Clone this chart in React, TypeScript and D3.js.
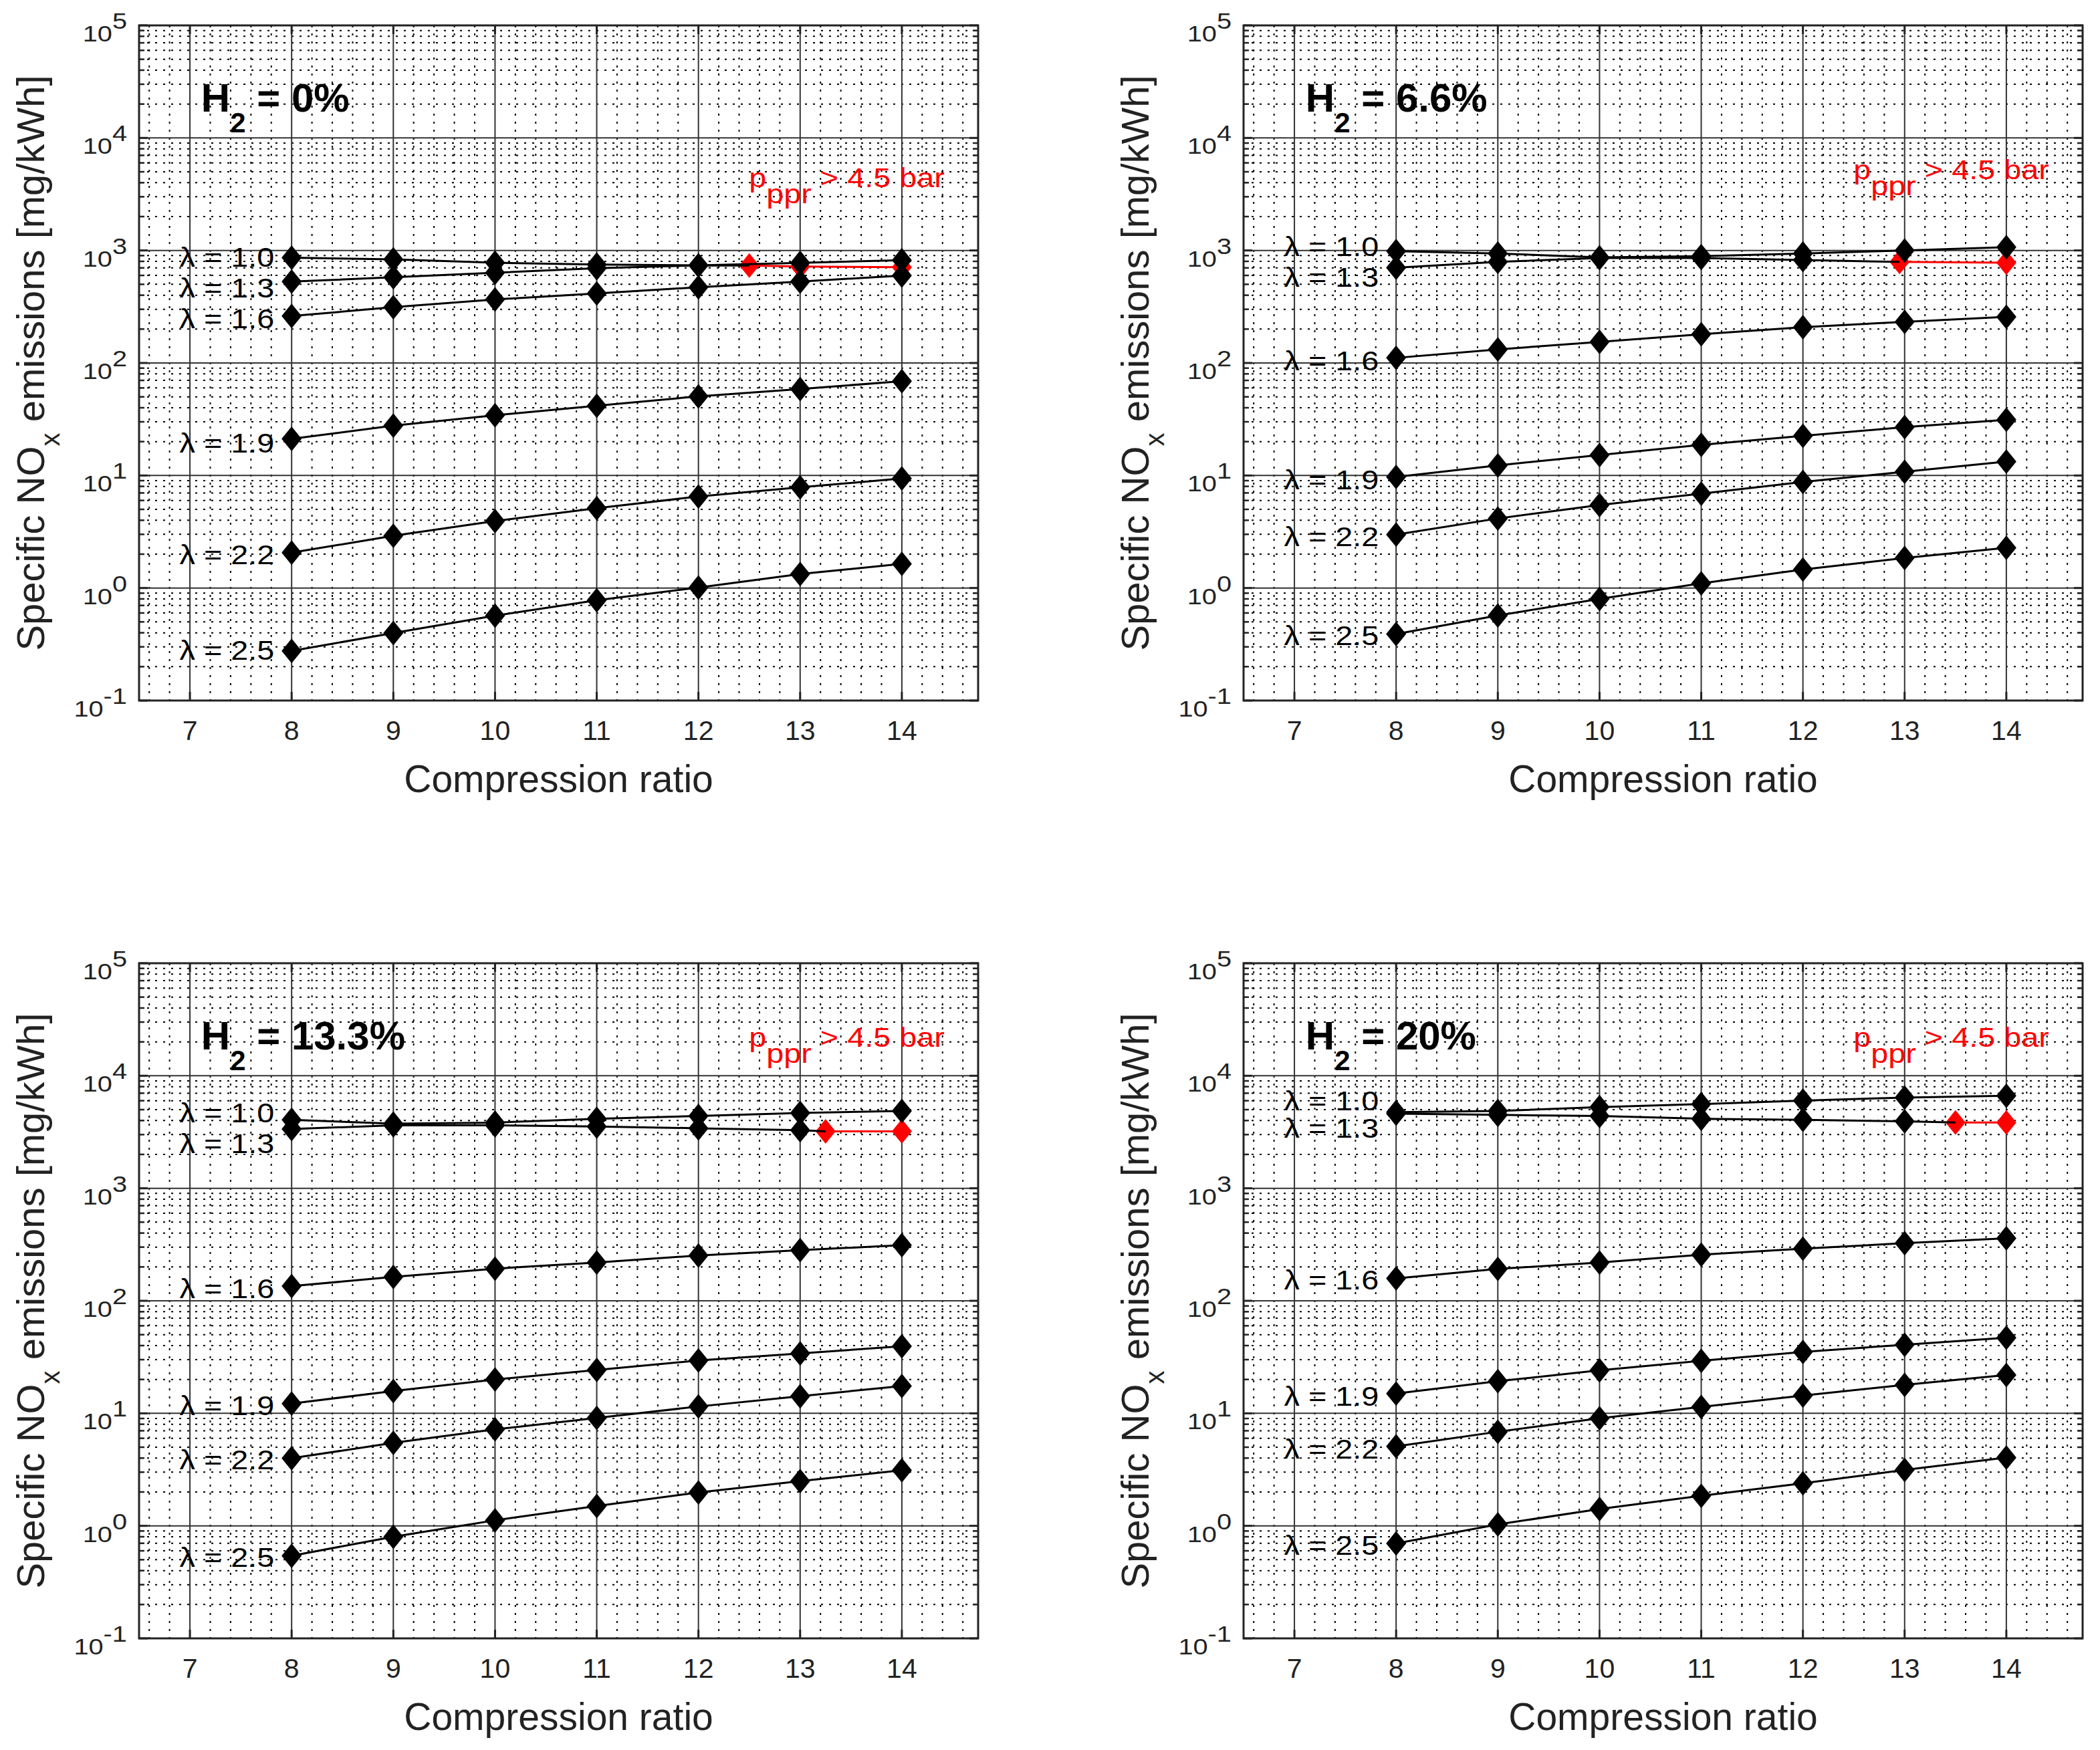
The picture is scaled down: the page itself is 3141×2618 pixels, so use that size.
import React, { useEffect } from 'react';
import * as d3 from 'd3';

// x values shared by all curves
const compressionRatios = [8, 9, 10, 11, 12, 13, 14];
const lambdaValues = ['1.0', '1.3', '1.6', '1.9', '2.2', '2.5'];
const h2Shares = ['0%', '6.6%', '13.3%', '20%'];

// Specific NOx [mg/kWh], one row per lambda (1.0 ... 2.5), columns follow compressionRatios.
// The lambda = 1.3 row only holds the points below the pressure limit.
const noxH2_0 = [
  [861, 833, 778, 750, 736, 775, 820],
  [528, 578, 634, 695, 736],
  [261, 313, 367, 415, 471, 528, 598],
  [21.2, 27.7, 34.3, 41.7, 50.5, 58.6, 68.9],
  [2.06, 2.91, 3.94, 5.12, 6.5, 7.86, 9.4],
  [0.276, 0.398, 0.568, 0.778, 1.01, 1.33, 1.64],
];
const noxH2_66 = [
  [985, 939, 868, 890, 939, 1000, 1070],
  [702, 791, 855, 855, 822],
  [111, 132, 154, 180, 208, 232, 257],
  [9.7, 12.3, 15.2, 18.7, 22.5, 26.9, 31.3],
  [2.98, 4.15, 5.46, 6.9, 8.75, 10.8, 13.3],
  [0.39, 0.57, 0.8, 1.1, 1.46, 1.85, 2.28],
];
const noxH2_133 = [
  [4055, 3750, 3834, 4150, 4385, 4670, 4860],
  [3360, 3630, 3630, 3545, 3415, 3280],
  [135, 163, 193, 219, 253, 282, 312],
  [12.2, 15.8, 20, 24.3, 29.5, 34, 39.5],
  [3.99, 5.46, 7.2, 9.1, 11.5, 14.2, 17.5],
  [0.542, 0.8, 1.12, 1.5, 1.98, 2.5, 3.12],
];
const noxH2_20 = [
  [4745, 4860, 5260, 5600, 6010, 6400, 6650],
  [4600, 4490, 4385, 4150, 4055, 3935],
  [158, 192, 219, 257, 291, 325, 359],
  [15.0, 19.3, 24.1, 29.3, 35.1, 40.7, 46.9],
  [5.09, 6.86, 9.03, 11.4, 14.4, 17.9, 21.9],
  [0.697, 1.03, 1.41, 1.85, 2.39, 3.14, 4.04],
];

// lambda = 1.3 points with peak pressure rise above 4.5 bar (red)
const limitCrH2_0 = [12.5, 13, 14];
const limitNoxH2_0 = [733, 720, 710];
const limitCrH2_66 = [12.95, 14];
const limitNoxH2_66 = [791, 777];
const limitCrH2_133 = [13.25, 14];
const limitNoxH2_133 = [3205, 3205];
const limitCrH2_20 = [13.5, 14];
const limitNoxH2_20 = [3840, 3840];

// where the lambda labels sit (NOx value of their vertical centre)
const labelNoxH2_0 = [871, 462, 245, 19.5, 1.97, 0.278];
const labelNoxH2_66 = [1081, 577, 104, 9.1, 2.84, 0.378];
const labelNoxH2_133 = [4677, 2495, 128, 11.7, 3.84, 0.521];
const labelNoxH2_20 = [6012, 3428, 152, 14.1, 4.82, 0.665];
const noteNox = [3650, 4300, 18000, 18000];

const W = 1255;
const H = 1010;
const FONT = '"Liberation Sans", Arial, Helvetica, sans-serif';
const STRETCH = 1.17; // the TeX-style labels are drawn a bit wide in the original

const panels = [
  { left: 208, top: 38, nox: noxH2_0, limCr: limitCrH2_0, limNox: limitNoxH2_0, labels: labelNoxH2_0 },
  { left: 1860, top: 38, nox: noxH2_66, limCr: limitCrH2_66, limNox: limitNoxH2_66, labels: labelNoxH2_66 },
  { left: 208, top: 1441, nox: noxH2_133, limCr: limitCrH2_133, limNox: limitNoxH2_133, labels: labelNoxH2_133 },
  { left: 1860, top: 1441, nox: noxH2_20, limCr: limitCrH2_20, limNox: limitNoxH2_20, labels: labelNoxH2_20 },
];

const diamond = (cx: number, cy: number) =>
  `M${cx},${cy - 18.5}L${cx + 15},${cy}L${cx},${cy + 18.5}L${cx - 15},${cy}Z`;

function Panel({ idx }: { idx: number }) {
  const p = panels[idx];
  const x = d3.scaleLinear().domain([6.5, 14.75]).range([0, W]);
  const y = d3.scaleLog().domain([0.1, 1e5]).range([H, 0]);

  const minorX = d3.range(33, 74).filter((i) => i % 5 !== 0).map((i) => i / 5);
  const majorX = d3.range(7, 15);
  const exps = d3.range(-1, 6);
  const minorY = d3.range(-1, 5).flatMap((e) => d3.range(2, 10).map((k) => k * Math.pow(10, e)));

  const line = d3
    .line<[number, number]>()
    .x((d) => x(d[0]))
    .y((d) => y(d[1]));

  const series = p.nox.map((row) => row.map((v, i) => [compressionRatios[i], v] as [number, number]));
  const red = p.limCr.map((c, i) => [c, p.limNox[i]] as [number, number]);
  // the black lambda = 1.3 line runs on to the first red point
  const blackPaths = series.map((s, i) => (i === 1 ? [...s, red[0]] : s));

  return (
    <g transform={`translate(${p.left},${p.top})`}>
      <rect x={0} y={0} width={W} height={H} fill="#fff" />
      {/* minor grid */}
      {minorX.map((v) => (
        <line key={'mx' + v} x1={x(v)} x2={x(v)} y1={0} y2={H} stroke="#000" strokeWidth={2} strokeDasharray="3 9" />
      ))}
      {minorY.map((v) => (
        <line key={'my' + v} x1={0} x2={W} y1={y(v)} y2={y(v)} stroke="#000" strokeWidth={2} strokeDasharray="3 9" />
      ))}
      {/* major grid */}
      {majorX.map((v) => (
        <line key={'gx' + v} x1={x(v)} x2={x(v)} y1={0} y2={H} stroke="#333" strokeWidth={2} />
      ))}
      {exps.slice(1, -1).map((e) => (
        <line key={'gy' + e} x1={0} x2={W} y1={y(Math.pow(10, e))} y2={y(Math.pow(10, e))} stroke="#333" strokeWidth={2} />
      ))}

      {/* red part */}
      <path d={line(red) || ''} fill="none" stroke="#ff0000" strokeWidth={3} />
      {red.map((d, i) => (
        <path key={'r' + i} d={diamond(x(d[0]), y(d[1]))} fill="#ff0000" />
      ))}

      {/* black curves */}
      {blackPaths.map((s, i) => (
        <path key={'l' + i} d={line(s) || ''} fill="none" stroke="#000" strokeWidth={3} />
      ))}
      {series.map((s, i) =>
        s.map((d, j) => <path key={'m' + i + '-' + j} d={diamond(x(d[0]), y(d[1]))} fill="#000" />)
      )}

      {/* box and ticks */}
      <rect x={0} y={0} width={W} height={H} fill="none" stroke="#222" strokeWidth={3} />
      {majorX.map((v) => (
        <g key={'tx' + v}>
          <line x1={x(v)} x2={x(v)} y1={H} y2={H - 13} stroke="#222" strokeWidth={3} />
          <line x1={x(v)} x2={x(v)} y1={0} y2={13} stroke="#222" strokeWidth={3} />
        </g>
      ))}
      {exps.map((e) => (
        <g key={'ty' + e}>
          <line x1={0} x2={13} y1={y(Math.pow(10, e))} y2={y(Math.pow(10, e))} stroke="#222" strokeWidth={3} />
          <line x1={W} x2={W - 13} y1={y(Math.pow(10, e))} y2={y(Math.pow(10, e))} stroke="#222" strokeWidth={3} />
        </g>
      ))}
      {minorY.map((v) => (
        <g key={'tm' + v}>
          <line x1={0} x2={8} y1={y(v)} y2={y(v)} stroke="#222" strokeWidth={2.5} />
          <line x1={W} x2={W - 8} y1={y(v)} y2={y(v)} stroke="#222" strokeWidth={2.5} />
        </g>
      ))}

      {/* tick labels */}
      {majorX.map((v) => (
        <text key={'lx' + v} x={x(v)} y={H + 59} textAnchor="middle" fontSize={41} fontFamily={FONT} fill="#222">
          {v}
        </text>
      ))}
      {exps.map((e) => (
        <g key={'ly' + e} transform={`translate(-18,${y(Math.pow(10, e))}) scale(${STRETCH},1)`}>
          <text x={0} y={24} textAnchor="end" fontSize={34} fontFamily={FONT} fill="#222">
            10<tspan dy={-19}>{e}</tspan>
          </text>
        </g>
      ))}

      {/* axis titles */}
      <text x={W / 2} y={H + 137} textAnchor="middle" fontSize={57} fontFamily={FONT} fill="#222">
        Compression ratio
      </text>
      <text
        transform={`translate(-142,${H / 2}) rotate(-90)`}
        textAnchor="middle"
        fontSize={58}
        fontFamily={FONT}
        fill="#222"
      >
        Specific NO<tspan fontSize={40} dy={23}>x</tspan>
        <tspan dy={-23}> emissions [mg/kWh]</tspan>
      </text>

      {/* panel title */}
      <text x={x(7.11)} y={y(17100)} fontSize={60} fontWeight="bold" fontFamily={FONT} fill="#000">
        H<tspan fontSize={42} dy={31}>2</tspan>
        <tspan dy={-31}> = {h2Shares[idx]}</tspan>
      </text>

      {/* lambda labels */}
      {lambdaValues.map((l, i) => (
        <g key={'lam' + l} transform={`translate(${x(7.83)},${y(p.labels[i]) + 14}) scale(${STRETCH},1)`}>
          <text x={0} y={0} textAnchor="end" fontSize={40} fontFamily={FONT} fill="#000">
            {'\u03bb = ' + l}
          </text>
        </g>
      ))}

      {/* pressure limit note */}
      <g transform={`translate(${x(14.42)},${y(noteNox[idx])}) scale(${STRETCH},1)`}>
        <text x={0} y={0} textAnchor="end" fontSize={40} fontFamily={FONT} fill="#ff0000">
          p<tspan dy={24}>ppr</tspan>
          <tspan dy={-24}> &gt; 4.5 bar</tspan>
        </text>
      </g>
    </g>
  );
}

export default function App() {
  useEffect(() => {
    document.body.style.margin = '0';
  }, []);

  return (
    <svg width={3141} height={2618} viewBox="0 0 3141 2618" style={{ display: 'block', background: '#fff' }}>
      <rect x={0} y={0} width={3141} height={2618} fill="#fff" />
      {panels.map((_, i) => (
        <Panel key={i} idx={i} />
      ))}
    </svg>
  );
}
